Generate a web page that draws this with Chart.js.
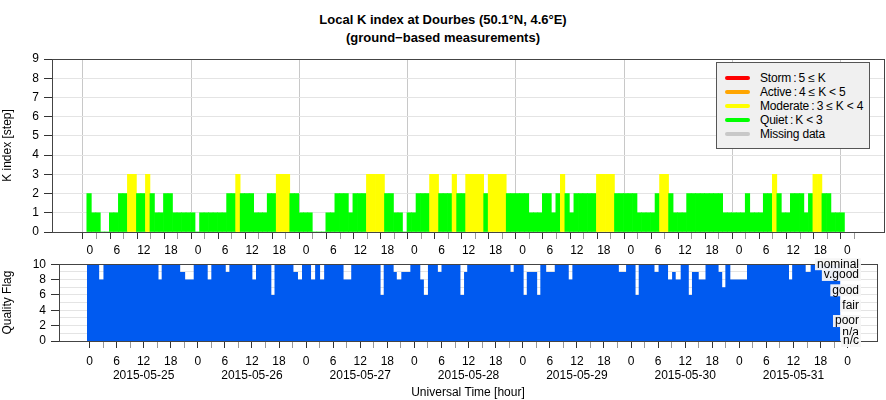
<!DOCTYPE html>
<html><head><meta charset="utf-8">
<script src="https://cdn.jsdelivr.net/npm/chart.js@4"></script>
<style>
body{margin:0;width:886px;height:400px;position:relative;background:#fff;font-family:"Liberation Sans",Arial,sans-serif;overflow:hidden}
#title{position:absolute;left:0;top:11px;width:886px;text-align:center;font-weight:bold;font-size:13px;line-height:18px;color:#000}
canvas{position:absolute;left:0;top:0}
#legend{position:absolute;left:716px;top:62px;width:154px;height:87px;background:#f0f0f0;border:1px solid #555;box-sizing:border-box;font-size:12px;color:#000}
.row{position:absolute;left:8px;height:14px;line-height:14px;white-space:nowrap;letter-spacing:-0.2px}
.sw{display:inline-block;width:25px;height:4px;border-radius:2px;vertical-align:middle;margin-right:10px;position:relative;top:-1px}
</style></head><body>
<div id="title">Local K index at Dourbes (50.1°N, 4.6°E)<br>(ground−based measurements)</div>
<div style="position:absolute;left:0;top:0;width:886px;height:270px"><canvas id="c1"></canvas></div>
<div style="position:absolute;left:0;top:252px;width:886px;height:148px"><canvas id="c2"></canvas></div>
<div id="legend"></div>
<script>
const dates = ['2015-05-25','2015-05-26','2015-05-27','2015-05-28','2015-05-29','2015-05-30','2015-05-31'];
const kValues = [
 2,1,1,0,0,1,1,2,2,3,3,2,2,3,2,1,1,2,2,1,1,1,1,1,
 0,1,1,1,1,1,1,2,2,3,2,2,2,1,1,1,2,2,3,3,3,2,2,1,
 1,1,0,0,0,1,1,2,2,2,1,2,2,2,3,3,3,3,2,2,1,1,0,1,
 1,2,2,2,3,3,2,2,2,3,2,2,3,3,3,3,2,3,3,3,3,2,2,2,
 2,2,1,1,1,2,2,1,2,3,2,1,2,2,2,2,2,3,3,3,3,2,2,2,
 2,2,1,1,1,1,2,3,3,2,1,1,1,2,2,2,2,2,2,2,2,1,1,1,
 1,1,2,1,1,1,2,2,3,2,1,1,2,2,2,1,2,3,3,2,2,1,1,1];
const qualityStart = -0.55, qualityEnd = 166.4, qualityBase = 10;
const qualityDips = [[2.15,3.1,8],[15.3,16,8],[20.1,21.2,9],[21.2,23.1,8],[26.2,27,8],[30.2,31,9],[36.1,36.9,8],[40.3,41,6],[45.2,46.2,9],[46.2,47.1,8],[49.1,50,8],[51.1,52,8],[56.3,58,8],[64.5,65.2,6],[67.4,71.1,9],[68.1,69.1,8],[73.3,74.1,8],[74.1,75,6],[77.2,78,9],[82.2,83.7,9],[82.2,83,6],[93.3,94,9],[96.2,99.9,9],[96.2,96.9,6],[99.2,99.9,6],[101.2,103.1,9],[106.2,107,8],[117.3,118.9,9],[121,121.7,6],[125.2,126.1,9],[128.2,131,9],[128.2,129.1,8],[129.9,131,8],[132.8,136.5,9],[132.8,133.5,6],[135,136.5,8],[139.4,140.9,9],[140.2,140.9,7],[142,145.7,8],[155,155.7,8],[158.7,159.8,9]];
const qualityLabels = [['nominal',10],['v.good',8.6],['good',6.6],['fair',4.6],['poor',2.6],['n/a',1.1],['n/c',0]];
const legendItems = [['#ff0000','Storm : 5 ≤ K'],['#ffa500','Active : 4 ≤ K < 5'],['#ffff00','Moderate : 3 ≤ K < 4'],['#00ff00','Quiet : K < 3'],['#c8c8c8','Missing data']];

const lg=document.getElementById('legend');
legendItems.forEach((it,i)=>{const d=document.createElement('div');d.className='row';d.style.top=(8+i*14)+'px';
 d.innerHTML='<span class="sw" style="background:'+it[0]+'"></span>'+it[1].replace(/ : /g,'\u2009:\u2009');lg.appendChild(d);});

function kColor(v){return v>=5?'#ff0000':v>=4?'#ffa500':v>=3?'#ffff00':'#00ff00';}
const font={family:'"Liberation Sans", Arial, sans-serif',size:12};
Chart.defaults.font=font; Chart.defaults.color='#000';
Chart.defaults.animation=false; Chart.defaults.responsive=true; Chart.defaults.maintainAspectRatio=false;

const XMIN=-6.75, XMAX=174.5;
function xTicks(s){s.ticks=[];for(let h=0;h<=168;h+=3)s.ticks.push({value:h});}
const tv=c=>(c.tick?c.tick.value:NaN);
const frame={id:'frame',afterDatasetsDraw(c){const a=c.chartArea,x=c.ctx;x.save();x.strokeStyle='#444';x.lineWidth=1;
 x.strokeRect(Math.round(a.left)+0.5,Math.round(a.top)+0.5,Math.round(a.right-a.left),Math.round(a.bottom-a.top));x.restore();}};

new Chart(document.getElementById('c1'),{type:'bar',
 data:{datasets:[{data:kValues.map((v,h)=>({x:h-0.15,y:v})),backgroundColor:kValues.map(kColor),barPercentage:1,categoryPercentage:1,borderWidth:0}]},
 options:{layout:{padding:{top:59,right:2,left:0,bottom:0}},plugins:{legend:{display:false},tooltip:{enabled:false}},
  scales:{
   x:{type:'linear',min:XMIN,max:XMAX,afterBuildTicks:xTicks,afterFit(s){s.height=38;},border:{display:false},
    grid:{color:c=>tv(c)%24===0?'#c8c8c8':'rgba(0,0,0,0)',tickColor:c=>tv(c)%6===0?'#333':'#999',tickLength:7},
    ticks:{autoSkip:false,maxRotation:0,padding:4,callback:v=>v%6===0?String(v%24):''}},
   y:{min:0,max:9,afterFit(s){s.width=52;},border:{display:false},
    grid:{color:'#e4e4e4',tickColor:'#333',tickLength:8},ticks:{stepSize:1,padding:5,autoSkip:false},
    title:{display:true,text:'K index [step]',padding:{top:0,bottom:2}}}}},
 plugins:[frame]});

let bounds=[qualityStart,qualityEnd];qualityDips.forEach(d=>{bounds.push(d[0],d[1]);});
bounds=[...new Set(bounds)].sort((a,b)=>a-b);
const qPts=[];
for(let i=0;i<bounds.length-1;i++){const m=(bounds[i]+bounds[i+1])/2;let v=qualityBase;
 qualityDips.forEach(d=>{if(m>d[0]&&m<d[1])v=Math.min(v,d[2]);});
 qPts.push({x:bounds[i],y:v},{x:bounds[i+1],y:v});}

const qLabelPlugin={id:'ql',afterDraw(c){const x=c.ctx,ys=c.scales.y;x.save();x.font='12px "Liberation Sans", Arial, sans-serif';
 x.textAlign='right';x.textBaseline='middle';qualityLabels.forEach(([t,v])=>{const y=ys.getPixelForValue(v);const w=x.measureText(t).width;
 x.fillStyle='rgba(245,245,245,0.95)';x.fillRect(859-w-2,y-6,w+4,12);x.fillStyle='#000';x.fillText(t,859,y);});x.restore();}};

new Chart(document.getElementById('c2'),{type:'line',
 data:{datasets:[{data:qPts,fill:'origin',backgroundColor:'#005af0',borderWidth:0,pointRadius:0,tension:0}]},
 options:{layout:{padding:{top:0,right:9,left:0,bottom:0}},plugins:{legend:{display:false},tooltip:{enabled:false}},
  scales:{
   x:{type:'linear',min:XMIN,max:XMAX,afterBuildTicks:xTicks,afterFit(s){s.height=59;},border:{display:false},
    grid:{color:'rgba(0,0,0,0)',tickColor:c=>tv(c)%6===0?'#333':'#999',tickLength:7},
    ticks:{autoSkip:false,maxRotation:0,padding:6,callback:v=>{if(v%6!==0)return '';const l=String(v%24);
      if(v%24===12&&v<168)return [l,dates[Math.floor(v/24)]];return l;}},
    title:{display:true,text:'Universal Time [hour]',padding:{top:0,bottom:0}}},
   y:{min:0,max:10,afterFit(s){s.width=59;},border:{display:false},
    grid:{color:'#e4e4e4',tickColor:c=>tv(c)%2===0?'#333':'rgba(0,0,0,0)',tickLength:8},
    ticks:{stepSize:1,padding:5,autoSkip:false,callback:v=>v%2===0?String(v):''},
    title:{display:true,text:'Quality Flag',padding:{top:0,bottom:2}}}}},
 plugins:[frame,qLabelPlugin]});
</script></body></html>
